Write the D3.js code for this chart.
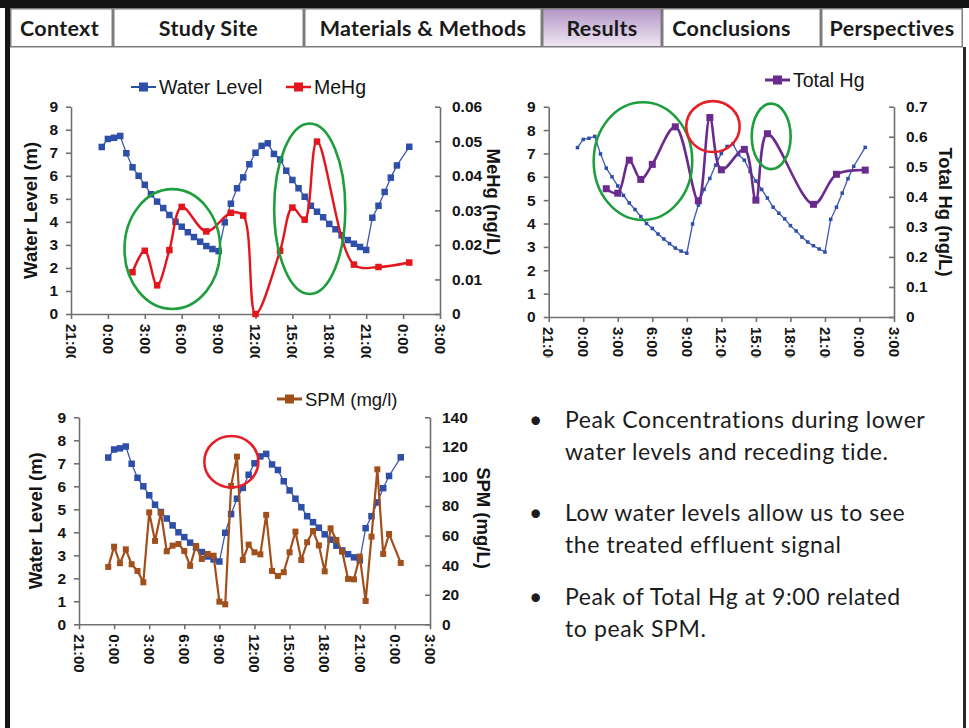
<!DOCTYPE html>
<html><head><meta charset="utf-8">
<script src="https://cdn.jsdelivr.net/npm/d3@7"></script>
<style>
body{margin:0;background:#fff;}
svg{display:block;}
</style></head><body>
<svg id="s" width="969" height="728"></svg>
<script>
// ---------- DATA ----------
const tabs = ["Context", "Study Site", "Materials & Methods", "Results", "Conclusions", "Perspectives"];
const activeTab = "Results";

const xTickHours  = [-3, 0, 3, 6, 9, 12, 15, 18, 21, 24, 27];
const xTickLabels = ["21:00", "0:00", "3:00", "6:00", "9:00", "12:00", "15:00", "18:00", "21:00", "0:00", "3:00"];
const waterTicks = [0, 1, 2, 3, 4, 5, 6, 7, 8, 9];
const mehgTicks = [0, 0.01, 0.02, 0.03, 0.04, 0.05, 0.06];
const thgTicks = [0, 0.1, 0.2, 0.3, 0.4, 0.5, 0.6, 0.7];
const spmTicks = [0, 20, 40, 60, 80, 100, 120, 140];

// hours after midnight of day 1
const waterTime = [-0.5, 0, 0.5, 1, 1.5, 2, 2.5, 3, 3.5, 4, 4.5, 5, 5.5, 6, 6.5, 7, 7.5, 8, 8.5, 9,
  9.5, 10, 10.5, 11, 11.5, 12, 12.5, 13, 13.5, 14, 14.5, 15, 15.5, 16, 16.5, 17, 17.5, 18, 18.5, 19,
  19.5, 20, 20.5, 21, 21.5, 22, 22.5, 23, 23.5, 24.5];
const waterLevel = [7.25, 7.6, 7.65, 7.73, 6.98, 6.37, 6.0, 5.61, 5.2, 4.88, 4.6, 4.3, 4.0, 3.79, 3.55, 3.34, 3.14, 2.95, 2.82, 2.73,
  3.98, 4.79, 5.46, 5.93, 6.5, 7.0, 7.3, 7.41, 6.95, 6.71, 6.22, 5.82, 5.46, 5.09, 4.7, 4.44, 4.2, 3.91, 3.68, 3.42,
  3.21, 3.05, 2.91, 2.78, 4.18, 4.7, 5.3, 5.92, 6.45, 7.26];

const mehgTime = [2, 3, 4, 5, 6, 8, 10, 11, 12, 14, 15, 16, 17, 20, 22, 24.5];
const mehgValue = [0.0121, 0.0183, 0.0083, 0.0185, 0.0310, 0.0239, 0.0293, 0.0285, 0.0, 0.0183, 0.0308, 0.0273, 0.0499, 0.0143, 0.0136, 0.0149];

const thgTime = [2, 3, 4, 5, 6, 8, 10, 11, 12, 14, 15, 16, 20, 22, 24.5];
const thgValue = [0.427, 0.412, 0.522, 0.458, 0.508, 0.633, 0.387, 0.664, 0.49, 0.558, 0.389, 0.61, 0.375, 0.475, 0.489];

const spmTime = [-0.5, 0, 0.5, 1, 1.5, 2, 2.5, 3, 3.5, 4, 4.5, 5, 5.5, 6, 6.5, 7, 7.5, 8, 8.5, 9,
  9.5, 10, 10.5, 11, 11.5, 12, 12.5, 13, 13.5, 14, 14.5, 15, 15.5, 16, 16.5, 17, 17.5, 18, 18.5, 19,
  19.5, 20, 20.5, 21, 21.5, 22, 22.5, 23, 23.5, 24.5];
const spmValue = [38.8, 52.5, 41.3, 50.7, 40.6, 36.1, 28.4, 75.7, 56.4, 75.5, 49.4, 53.2, 54.3, 49.6, 39.5, 53.0, 44.2, 47.6, 46.4, 15.3,
  13.5, 93.6, 113.4, 43.5, 53.9, 48.7, 47.3, 74.0, 36.1, 32.7, 35.2, 48.7, 62.7, 43.5, 55.5, 63.1, 53.4, 35.8, 64.9, 57.0,
  49.1, 30.7, 30.4, 45.8, 15.8, 59.3, 104.8, 47.6, 61.1, 41.5];

// annotation ellipses: centre (hour, water level) and half-extent (hours, metres)
const chart1Marks = [{t: 5.24, v: 2.82, rt: 3.89, rv: 2.6, kind: "green"}, {t: 16.41, v: 4.57, rt: 2.89, rv: 3.7, kind: "green"}];
const chart2Marks = [{t: 5.19, v: 6.67, rt: 4.28, rv: 2.52, kind: "green"}, {t: 11.27, v: 8.15, rt: 2.32, rv: 1.09, kind: "red"}, {t: 16.33, v: 7.73, rt: 1.69, rv: 1.4, kind: "green"}];
const chart3Marks = [{t: 10.02, v: 7.07, rt: 2.31, rv: 1.12, kind: "red"}];

const bullets = [
  ["Peak Concentrations during lower", "water levels and receding tide."],
  ["Low water levels allow us to see", "the treated effluent signal"],
  ["Peak of Total Hg at 9:00 related", "to peak SPM."]
];

// ---------- DRAW ----------
const svg = d3.select("#s");
const FONT = "'Liberation Sans', Arial, sans-serif";
const BLUE = "#2d4fa9", BLUELINE = "#3d57b2", RED = "#e3161d", PURPLE = "#6a2b8f", BROWN = "#a14f1b";
const GREEN = "#1e9e3c", CIRCLERED = "#e52027", AXIS = "#707070";

const defs = svg.append("defs");
const grad = defs.append("linearGradient").attr("id", "tabgrad").attr("x1", 0).attr("y1", 0).attr("x2", 0).attr("y2", 1);
grad.append("stop").attr("offset", "0%").attr("stop-color", "#b496c6");
grad.append("stop").attr("offset", "100%").attr("stop-color", "#efe7f3");

// frame
svg.append("rect").attr("x", 0).attr("y", 0).attr("width", 969).attr("height", 8).attr("fill", "#141414");
svg.append("rect").attr("x", 5).attr("y", 0).attr("width", 5).attr("height", 728).attr("fill", "#141414");
svg.append("rect").attr("x", 963).attr("y", 47).attr("width", 3).attr("height", 681).attr("fill", "#2a2a2a");

// tabs
const tabEdges = [10, 113, 304, 542, 662, 821, 963];
const tabTextShift = [-2, 0, 0, 0, -10, 0];
const tabG = svg.append("g");
tabs.forEach((name, i) => {
  const x0 = tabEdges[i], x1 = tabEdges[i + 1];
  tabG.append("rect").attr("x", x0 + 0.75).attr("y", 8.75).attr("width", x1 - x0 - 1.5).attr("height", 38)
    .attr("fill", name === activeTab ? "url(#tabgrad)" : "#fff").attr("stroke", "#7c7c7c").attr("stroke-width", 1.5);
  tabG.append("text").attr("x", (x0 + x1) / 2 + tabTextShift[i]).attr("y", 36).attr("text-anchor", "middle")
    .attr("font-family", "Lato, sans-serif").attr("font-weight", "bold").attr("font-size", 21.5)
    .attr("letter-spacing", 0.3).attr("fill", "#1a1a1a")
    .text(name);
});

const clip = defs.append("clipPath").attr("id", "topclip");
clip.append("rect").attr("x", 0).attr("y", 0).attr("width", 969).attr("height", 358);

function drawChart(cfg) {
  const x = d3.scaleLinear().domain([-3, 27]).range([cfg.left, cfg.right]);
  const yL = d3.scaleLinear().domain([0, 9]).range([cfg.bottom, cfg.top]);
  const yR = d3.scaleLinear().domain(cfg.rDomain).range([cfg.bottom, cfg.top]);
  const g = svg.append("g");

  const styleAxis = sel => {
    sel.attr("font-family", null).attr("font-size", null);
    sel.select(".domain").attr("stroke", AXIS).attr("stroke-width", 1.6);
    sel.selectAll(".tick line").attr("stroke", AXIS).attr("stroke-width", 1.6);
    sel.selectAll("text").attr("font-family", FONT).attr("font-weight", "bold").attr("font-size", 15.5).attr("fill", "#141414");
  };

  // left axis
  const gl = g.append("g").attr("transform", `translate(${cfg.left},0)`)
    .call(d3.axisLeft(yL).tickValues(waterTicks).tickSize(5).tickSizeOuter(0).tickPadding(8).tickFormat(d3.format("d")));
  styleAxis(gl);
  // right axis, ticks inward
  const gr = g.append("g").attr("transform", `translate(${cfg.right},0)`)
    .call(d3.axisRight(yR).tickValues(cfg.rTicks).tickSize(-5).tickSizeOuter(0).tickPadding(12).tickFormat(cfg.rFormat));
  styleAxis(gr);
  // bottom axis
  const gb = g.append("g").attr("transform", `translate(0,${cfg.bottom})`)
    .call(d3.axisBottom(x).tickValues(xTickHours).tickSize(5).tickSizeOuter(0).tickFormat(""));
  styleAxis(gb);
  const lab = g.append("g");
  if (cfg.clip) lab.attr("clip-path", "url(#topclip)");
  lab.selectAll("text").data(xTickHours).join("text")
    .attr("transform", (d) => `translate(${x(d)},${cfg.bottom + 10}) rotate(90)`)
    .attr("dy", "0.35em").attr("font-family", FONT).attr("font-weight", "bold").attr("font-size", 15).attr("fill", "#141414")
    .text((d, i) => xTickLabels[i]);

  // titles
  if (cfg.leftTitle) {
    g.append("text").attr("transform", `translate(${cfg.leftTitleX},${(cfg.top + cfg.bottom) / 2}) rotate(-90)`)
      .attr("text-anchor", "middle").attr("dy", "0.35em").attr("font-family", FONT).attr("font-weight", "bold")
      .attr("font-size", 18.5).attr("fill", "#141414").text(cfg.leftTitle);
  }
  g.append("text").attr("transform", `translate(${cfg.rightTitleX},${cfg.rightTitleY}) rotate(90)`)
    .attr("text-anchor", "middle").attr("dy", "0.35em").attr("font-family", FONT).attr("font-weight", "bold")
    .attr("font-size", 18.5).attr("fill", "#141414").text(cfg.rightTitle);

  // water level series
  const wl = waterTime.map((t, i) => ({t, v: waterLevel[i]}));
  g.append("path").datum(wl).attr("fill", "none").attr("stroke", BLUELINE).attr("stroke-width", 1.3)
    .attr("d", d3.line().x(d => x(d.t)).y(d => yL(d.v)));
  const ws = cfg.waterMarker;
  g.append("g").selectAll("rect").data(wl).join("rect")
    .attr("x", d => x(d.t) - ws / 2).attr("y", d => yL(d.v) - ws / 2).attr("width", ws).attr("height", ws).attr("fill", BLUE);

  // second series
  const s2 = cfg.time.map((t, i) => ({t, v: cfg.values[i]}));
  const line2 = d3.line().x(d => x(d.t)).y(d => yR(d.v));
  if (cfg.smooth) line2.curve(d3.curveCatmullRom.alpha(0.5));
  g.append("path").datum(s2).attr("fill", "none").attr("stroke", cfg.color).attr("stroke-width", cfg.lineWidth)
    .attr("stroke-linejoin", "round").attr("d", line2);
  const ms = cfg.marker;
  g.append("g").selectAll("rect").data(s2).join("rect")
    .attr("x", d => x(d.t) - ms / 2).attr("y", d => yR(d.v) - ms / 2).attr("width", ms).attr("height", ms).attr("fill", cfg.color);

  // annotations
  g.append("g").selectAll("ellipse").data(cfg.marks).join("ellipse")
    .attr("cx", d => x(d.t)).attr("cy", d => yL(d.v))
    .attr("rx", d => x(d.rt) - x(0)).attr("ry", d => yL(0) - yL(d.rv))
    .attr("fill", "none").attr("stroke", d => d.kind === "red" ? CIRCLERED : GREEN).attr("stroke-width", 2.6);

  // legend
  cfg.legend.forEach(l => {
    const lg = g.append("g");
    lg.append("line").attr("x1", l.x).attr("x2", l.x + 25).attr("y1", l.y).attr("y2", l.y)
      .attr("stroke", l.color).attr("stroke-width", l.lw);
    lg.append("rect").attr("x", l.x + 12.5 - 4.5).attr("y", l.y - 4.5).attr("width", 9).attr("height", 9).attr("fill", l.color);
    lg.append("text").attr("x", l.x + 28).attr("y", l.y).attr("dy", "0.36em").attr("font-family", FONT)
      .attr("font-size", l.fs).attr("fill", "#141414").text(l.label);
  });
}

drawChart({
  left: 71, right: 440, top: 106.7, bottom: 314, clip: true,
  rDomain: [0, 0.06], rTicks: mehgTicks, rFormat: d => d === 0 ? "0" : d3.format(".2f")(d),
  leftTitle: "Water Level (m)", leftTitleX: 31, rightTitle: "MeHg (ng/L)", rightTitleX: 493, rightTitleY: 202,
  waterMarker: 6.5, time: mehgTime, values: mehgValue, color: RED, lineWidth: 2.4, marker: 6.5, smooth: true,
  marks: chart1Marks,
  legend: [{x: 131, y: 87, color: BLUE, lw: 2, label: "Water Level", fs: 19.5}, {x: 286, y: 87, color: RED, lw: 2.5, label: "MeHg", fs: 19.5}]
});

drawChart({
  left: 548.7, right: 894, top: 106.7, bottom: 317, clip: true,
  rDomain: [0, 0.7], rTicks: thgTicks, rFormat: d => d === 0 ? "0" : d3.format(".1f")(d),
  leftTitle: null, rightTitle: "Total Hg (ng/L)", rightTitleX: 945, rightTitleY: 212,
  waterMarker: 3.5, time: thgTime, values: thgValue, color: PURPLE, lineWidth: 2.6, marker: 7, smooth: true,
  marks: chart2Marks,
  legend: [{x: 765, y: 80, color: PURPLE, lw: 3, label: "Total Hg", fs: 19.5}]
});

drawChart({
  left: 79, right: 430, top: 417.3, bottom: 624.3, clip: false,
  rDomain: [0, 140], rTicks: spmTicks, rFormat: d3.format("d"),
  leftTitle: "Water Level (m)", leftTitleX: 36, rightTitle: "SPM (mg/L)", rightTitleX: 483, rightTitleY: 518,
  waterMarker: 6.5, time: spmTime, values: spmValue, color: BROWN, lineWidth: 2.2, marker: 6, smooth: false,
  marks: chart3Marks,
  legend: [{x: 277, y: 399, color: BROWN, lw: 3, label: "SPM (mg/l)", fs: 18.5}]
});

// bullet text
const bg = svg.append("g").attr("font-family", "Lato, sans-serif").attr("font-size", 23).attr("fill", "#1c1c1c");
const bulletTops = [428, 521, 605];
bullets.forEach((lines, i) => {
  bg.append("text").attr("x", 529).attr("y", bulletTops[i]).text("•");
  lines.forEach((ln, j) => {
    bg.append("text").attr("x", 565).attr("y", bulletTops[i] + j * 32).attr("letter-spacing", 0.6).text(ln);
  });
});
</script></body></html>
